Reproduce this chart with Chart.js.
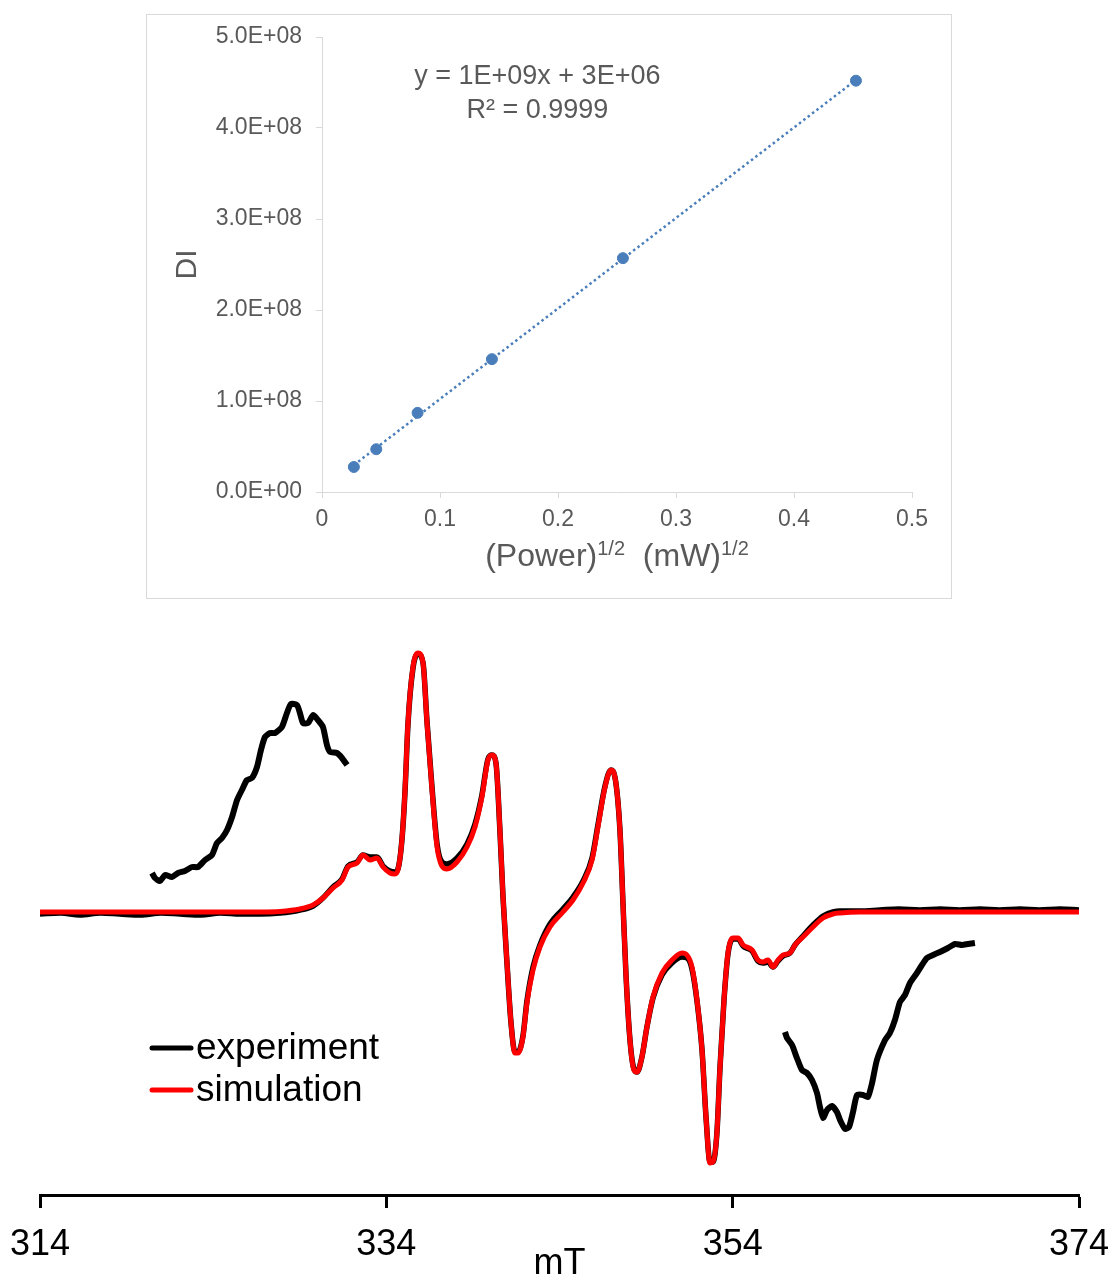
<!DOCTYPE html>
<html><head><meta charset="utf-8">
<script src="https://cdn.jsdelivr.net/npm/chart.js@4.4.1/dist/chart.umd.min.js"></script>
<style>
html,body{margin:0;padding:0;background:#fff;overflow:hidden;width:1113px;height:1278px;}
#topBox{position:absolute;left:146px;top:14px;width:804px;height:583px;border:1px solid #d9d9d9;background:#fff;}
#topBox canvas{display:block}
#bottomBox{position:absolute;left:0;top:600px;width:1113px;height:700px;}
#bottomBox canvas{display:block}
</style></head><body>
<div id="topBox"><canvas id="c1" width="804" height="583"></canvas></div>
<div id="bottomBox"><canvas id="c2" width="1113" height="700"></canvas></div>
<script>
// ---------- TOP CHART DATA ----------
const powerSqrt = [0.027, 0.046, 0.081, 0.144, 0.255, 0.4525];
const diValues  = [2.75e7, 4.7e7, 8.7e7, 1.46e8, 2.57e8, 4.52e8];
const xTicksTop = [0, 0.1, 0.2, 0.3, 0.4, 0.5];
const xTickLabelsTop = ['0', '0.1', '0.2', '0.3', '0.4', '0.5'];
const yTicksTop = [0, 1e8, 2e8, 3e8, 4e8, 5e8];
const yTickLabelsTop = ['0.0E+00', '1.0E+08', '2.0E+08', '3.0E+08', '4.0E+08', '5.0E+08'];
const equationLines = ['y = 1E+09x + 3E+06', 'R\u00B2 = 0.9999'];
const xTitleTop = [['(Power)', false], ['1/2', true], ['  (mW)', false], ['1/2', true]];
const yTitleTop = 'DI';

// ---------- BOTTOM CHART DATA (field in mT, signal in arbitrary units) ----------
const simField = [314.00,320.35,326.70,327.86,329.01,329.77,330.34,330.92,331.44,331.79,332.31,332.65,333.06,333.46,333.81,334.21,334.50,334.67,334.90,335.08,335.25,335.54,335.83,336.12,336.35,336.64,336.93,337.21,337.50,338.08,338.66,339.12,339.52,339.87,340.10,340.33,340.56,340.74,340.97,341.20,341.43,341.60,341.89,342.12,342.47,342.87,343.45,344.20,344.78,345.36,345.88,346.22,346.63,346.97,347.20,347.49,347.67,347.84,348.07,348.30,348.48,348.76,349.05,349.40,349.92,350.50,351.07,351.36,351.65,351.94,352.23,352.46,352.69,352.86,353.09,353.27,353.50,353.73,354.02,354.31,354.60,355.12,355.46,355.75,356.04,356.33,356.62,356.91,357.31,357.60,358.06,358.64,359.22,359.79,360.20,361.35,374.00];
const simSignal = [0,0,0,0.5,3,7,14,24,32,45,49,57,52,54,45,39,38,42,72,122,189,245,259,249,189,122,65,46,43,50,65,85,115,152,157,149,82,15,-51,-111,-141,-141,-125,-91,-58,-35,-15,0,12,29,52,85,125,142,135,82,7,-63,-128,-158,-160,-145,-115,-85,-61,-48,-41,-43,-55,-88,-138,-205,-251,-250,-221,-155,-88,-41,-26,-26,-33,-38,-48,-50,-48,-55,-48,-43,-41,-33,-25,-15,-6,-2,-1,0,0];

const expField = [314.00,315.20,316.30,317.50,318.60,319.80,321.00,322.10,323.30,324.40,325.60,326.70,327.86,329.01,329.77,330.34,330.92,331.44,331.79,332.31,332.65,333.06,333.46,333.81,334.21,334.50,334.67,334.90,335.08,335.25,335.54,335.83,336.12,336.35,336.64,336.93,337.21,337.50,338.08,338.66,339.12,339.52,339.87,340.10,340.33,340.56,340.74,340.97,341.20,341.43,341.60,341.89,342.12,342.47,342.87,343.45,344.20,344.78,345.36,345.88,346.22,346.63,346.97,347.20,347.49,347.67,347.84,348.07,348.30,348.48,348.76,349.05,349.40,349.92,350.50,351.07,351.36,351.65,351.94,352.23,352.46,352.69,352.86,353.09,353.27,353.50,353.73,354.02,354.31,354.60,355.12,355.46,355.75,356.04,356.33,356.62,356.91,357.31,357.60,358.06,358.64,359.22,359.79,360.20,361.35,362.50,363.60,364.80,366.00,367.10,368.30,369.40,370.60,371.70,372.90,374.00];
const expSignal = [-2,-1,-3,-1,-2,-3,-1,-2,-3,-1,-2,-2,-1,2,6,14,25,33,46,50,57,55,55,46,41,40,43,72,121,188,244,258,249,190,124,68,50,48,54,68,88,117,153,157,149,81,14,-52,-111,-140,-140,-124,-89,-55,-33,-12,3,15,31,54,87,126,142,135,82,7,-63,-128,-157,-160,-145,-115,-86,-63,-51,-45,-46,-57,-89,-138,-205,-250,-250,-221,-155,-88,-42,-27,-27,-34,-39,-49,-51,-50,-55,-49,-44,-41,-33,-24,-13,-4,0,1,1,2,3,2,3,2,3,2,3,2,3,2];

// magnified insets (experiment)
const lowInsetField = [320.47,320.64,320.93,321.22,321.62,321.97,322.37,322.78,323.12,323.53,323.93,324.22,324.51,324.80,325.09,325.38,325.66,325.95,326.24,326.53,326.76,326.99,327.28,327.57,327.97,328.26,328.49,328.84,329.01,329.19,329.48,329.77,330.05,330.34,330.57,330.75,331.15,331.44,331.73];
const lowInsetSignal = [39,34,31,37,35,39,41,45,45,52,57,69,74,82,95,112,122,132,134,145,162,175,179,179,185,199,208,207,199,189,189,197,192,185,167,160,159,154,147];
const highInsetField = [357.02,357.14,357.43,357.71,358.00,358.29,358.58,358.87,359.04,359.22,359.45,359.74,360.02,360.20,360.49,360.72,360.95,361.18,361.53,361.81,362.05,362.33,362.80,363.08,363.37,363.66,363.95,364.24,364.64,364.93,365.22,365.57,365.97,366.43,366.84,367.24,367.59,367.99];
const highInsetSignal = [-120,-126,-133,-146,-158,-161,-168,-181,-195,-206,-198,-194,-200,-208,-217,-215,-200,-183,-183,-185,-171,-148,-128,-121,-108,-90,-83,-71,-61,-53,-46,-43,-40,-36,-32,-33,-32,-31];

const fieldTicks = [314, 334, 354, 374];
const fieldTickLabels = ['314', '334', '354', '374'];
const fieldTitle = 'mT';
const seriesNames = ['experiment', 'simulation'];

// ---------- helpers ----------
const FONT = '"Liberation Sans", Arial, Helvetica, sans-serif';
Chart.defaults.font.family = FONT;
Chart.defaults.animation = false;
const zip = (xs, ys) => xs.map((x, i) => ({x: x, y: ys[i]}));
const noEdgePad = s => { s.paddingLeft = 0; s.paddingRight = 0; s.paddingTop = 0; s.paddingBottom = 0; };

// least-squares linear trendline from the points
const n = powerSqrt.length;
const mx = powerSqrt.reduce((a, b) => a + b, 0) / n;
const my = diValues.reduce((a, b) => a + b, 0) / n;
let sxy = 0, sxx = 0;
for (let i = 0; i < n; i++) { sxy += (powerSqrt[i] - mx) * (diValues[i] - my); sxx += (powerSqrt[i] - mx) ** 2; }
const slope = sxy / sxx, intercept = my - slope * mx;
const xLo = Math.min(...powerSqrt), xHi = Math.max(...powerSqrt);
const trend = [{x: xLo, y: slope * xLo + intercept}, {x: xHi, y: slope * xHi + intercept}];

const GRAY = '#595959', AXIS = '#d9d9d9', BLUE = '#4a7ebb';

const topTextPlugin = {
  id: 'topText',
  afterDraw(chart) {
    const {ctx, chartArea: a} = chart;
    const w = a.right - a.left, h = a.bottom - a.top;
    ctx.save();
    ctx.fillStyle = GRAY;
    ctx.textBaseline = 'alphabetic';
    ctx.textAlign = 'center';
    ctx.font = '27px ' + FONT;
    const cx = a.left + 0.365 * w;
    ctx.fillText(equationLines[0], cx, a.top + 0.104 * h);
    ctx.fillText(equationLines[1], cx, a.top + 0.177 * h);
    // x-axis title with superscripts
    const mainF = '32px ' + FONT, supF = '20px ' + FONT;
    let total = 0;
    const widths = xTitleTop.map(([t, sup]) => { ctx.font = sup ? supF : mainF; const m = ctx.measureText(t).width; total += m; return m; });
    let x = (a.left + a.right) / 2 - total / 2;
    const base = a.bottom + 74;
    ctx.textAlign = 'left';
    xTitleTop.forEach(([t, sup], i) => {
      ctx.font = sup ? supF : mainF;
      ctx.fillText(t, x, sup ? base - 11 : base);
      x += widths[i];
    });
    ctx.restore();
  }
};

new Chart(document.getElementById('c1'), {
  type: 'scatter',
  data: {
    datasets: [
      {label: 'DI', data: zip(powerSqrt, diValues), backgroundColor: BLUE, borderColor: BLUE, pointRadius: 5.5, pointHoverRadius: 5.5, showLine: false, order: 0},
      {label: 'Linear', data: trend, showLine: true, borderColor: BLUE, borderWidth: 2.5, borderDash: [2.5, 3], pointRadius: 0, order: 1}
    ]
  },
  options: {
    responsive: false,
    layout: {padding: {left: 0, right: 39, top: 22, bottom: 0}},
    plugins: {legend: {display: false}, tooltip: {enabled: false}},
    scales: {
      x: {
        type: 'linear', min: 0, max: 0.5,
        afterBuildTicks: s => { s.ticks = xTicksTop.map(v => ({value: v})); },
        afterFit: s => { s.height = 106; noEdgePad(s); },
        ticks: {callback: (v, i) => xTickLabelsTop[i], color: GRAY, font: {size: 23}, padding: 8, maxRotation: 0, autoSkip: false},
        grid: {drawOnChartArea: false, drawTicks: true, tickLength: 6, color: AXIS, lineWidth: 1},
        border: {display: true, color: AXIS, width: 1}
      },
      y: {
        type: 'linear', min: 0, max: 5e8,
        afterBuildTicks: s => { s.ticks = yTicksTop.map(v => ({value: v})); },
        afterFit: s => { s.width = 175; noEdgePad(s); },
        ticks: {callback: (v, i) => yTickLabelsTop[i], color: GRAY, font: {size: 23}, padding: 14, autoSkip: false},
        grid: {drawOnChartArea: false, drawTicks: true, tickLength: 6, color: AXIS, lineWidth: 1},
        border: {display: true, color: AXIS, width: 1},
        title: {display: true, text: yTitleTop, color: GRAY, font: {size: 30}, padding: {top: 23, bottom: 0}}
      }
    }
  },
  plugins: [topTextPlugin]
});

// ---------- BOTTOM CHART ----------
const legendPlugin = {
  id: 'spectrumLegend',
  afterDraw(chart) {
    const {ctx, chartArea: a} = chart;
    const w = a.right - a.left, h = a.bottom - a.top;
    const entries = chart.data.datasets.filter(d => d.inLegend).sort((p, q) => p.legendRank - q.legendRank);
    ctx.save();
    ctx.font = '37px ' + FONT;
    ctx.textBaseline = 'middle';
    ctx.textAlign = 'left';
    entries.forEach((d, i) => {
      const y = a.top + (0.7443 + i * 0.0731) * h;
      const x0 = a.left + 0.1059 * w;
      ctx.strokeStyle = d.borderColor; ctx.lineWidth = 5; ctx.lineCap = 'round';
      ctx.beginPath(); ctx.moveTo(x0 + 2, y); ctx.lineTo(x0 + 41, y); ctx.stroke();
      ctx.fillStyle = '#000';
      ctx.fillText(d.label, x0 + 46, y + 1);
    });
    ctx.restore();
  }
};

new Chart(document.getElementById('c2'), {
  type: 'scatter',
  data: {
    datasets: [
      {label: seriesNames[1], inLegend: true, legendRank: 1, data: zip(simField, simSignal), showLine: true, borderColor: '#ff0000', borderWidth: 5, pointRadius: 0, cubicInterpolationMode: 'monotone', borderJoinStyle: 'round', order: 0},
      {label: seriesNames[0], inLegend: true, legendRank: 0, data: zip(expField, expSignal), showLine: true, borderColor: '#000000', borderWidth: 5.5, pointRadius: 0, cubicInterpolationMode: 'monotone', borderJoinStyle: 'round', order: 1},
      {label: 'experiment (low-field, magnified)', data: zip(lowInsetField, lowInsetSignal), showLine: true, borderColor: '#000000', borderWidth: 6, pointRadius: 0, tension: 0.2, borderJoinStyle: 'round', order: 2},
      {label: 'experiment (high-field, magnified)', data: zip(highInsetField, highInsetSignal), showLine: true, borderColor: '#000000', borderWidth: 6, pointRadius: 0, tension: 0.2, borderJoinStyle: 'round', order: 2}
    ]
  },
  options: {
    responsive: false,
    layout: {padding: {left: 40, right: 34, top: 20, bottom: 0}},
    plugins: {legend: {display: false}, tooltip: {enabled: false}},
    scales: {
      x: {
        type: 'linear', min: 314, max: 374,
        afterBuildTicks: s => { s.ticks = fieldTicks.map(v => ({value: v})); },
        afterFit: s => { s.height = 105; noEdgePad(s); },
        ticks: {callback: (v, i) => fieldTickLabels[i], color: '#000', font: {size: 36}, padding: 15, maxRotation: 0, autoSkip: false},
        grid: {drawOnChartArea: false, drawTicks: true, tickLength: 13, tickWidth: 3, tickColor: '#000', color: '#000'},
        border: {display: true, color: '#000', width: 3},
        title: {display: true, text: fieldTitle, color: '#000', font: {size: 36}, padding: {top: 0, bottom: 14}}
      },
      y: {type: 'linear', min: -283, max: 292, display: false}
    }
  },
  plugins: [legendPlugin]
});
</script>
</body></html>
